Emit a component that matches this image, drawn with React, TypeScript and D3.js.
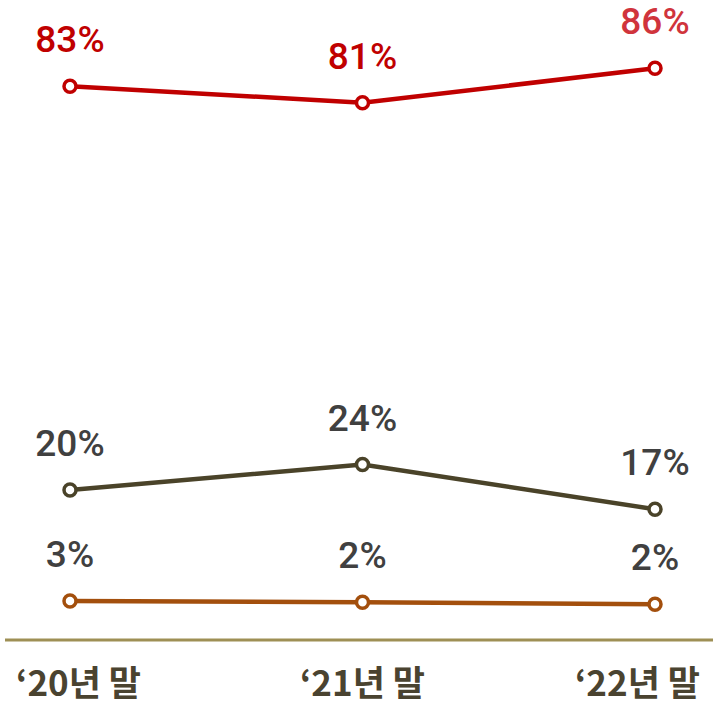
import React from "react";
import * as d3 from "d3";

const categories = ["‘20년 말", "‘21년 말", "‘22년 말"];
const redValues = [83.2, 80.6, 86.0];
const oliveValues = [19.9, 23.9, 16.9];
const orangeValues = [2.5, 2.3, 2.0];
const redLabels = ["83%", "81%", "86%"];
const oliveLabels = ["20%", "24%", "17%"];
const orangeLabels = ["3%", "2%", "2%"];

const W = 713;
const H = 703;

const series = [
  { name: "red", values: redValues, labels: redLabels, color: "#C00000", labelColors: ["#C00000", "#C00000", "#D0343C"] },
  { name: "olive", values: oliveValues, labels: oliveLabels, color: "#4A4329", labelColors: ["#404040", "#404040", "#404040"] },
  { name: "orange", values: orangeValues, labels: orangeLabels, color: "#A34F0D", labelColors: ["#404040", "#404040", "#404040"] },
];

export default function App() {
  const x = d3.scalePoint<string>().domain(categories).range([70, 655]);
  const y = d3.scaleLinear().domain([0, 100]).range([617, -21]);
  const line = d3
    .line<number>()
    .x((_, i) => x(categories[i]) as number)
    .y((d) => y(d));

  const anchors = ["start", "middle", "end"];
  const labelX = [16, x(categories[1]) as number, 700];

  return (
    <svg
      width={W}
      height={H}
      style={{ position: "absolute", left: 0, top: 0, display: "block", background: "#fff" }}
    >
      <line x1={5} x2={W} y1={640} y2={640} stroke="#9E8F55" strokeWidth={3} />
      {series.map((s) => (
        <g key={s.name}>
          <path d={line(s.values) || ""} fill="none" stroke={s.color} strokeWidth={4.5} />
          {s.values.map((v, i) => (
            <g key={i}>
              <circle
                cx={x(categories[i]) as number}
                cy={y(v)}
                r={6}
                fill="#fff"
                stroke={s.color}
                strokeWidth={3.5}
              />
              <text
                x={x(categories[i]) as number}
                y={y(v) - 34}
                textAnchor="middle"
                fontFamily="Roboto, 'Noto Sans', sans-serif"
                fontWeight={500}
                fontSize={37}
                fill={s.labelColors[i]}
              >
                {s.labels[i]}
              </text>
            </g>
          ))}
        </g>
      ))}
      {categories.map((c, i) => (
        <text
          key={c}
          x={labelX[i]}
          y={696}
          textAnchor={anchors[i] as any}
          fontFamily="'Noto Sans CJK KR', sans-serif"
          fontWeight={700}
          fontSize={35}
          fill="#4A4330"
        >
          {c}
        </text>
      ))}
    </svg>
  );
}
